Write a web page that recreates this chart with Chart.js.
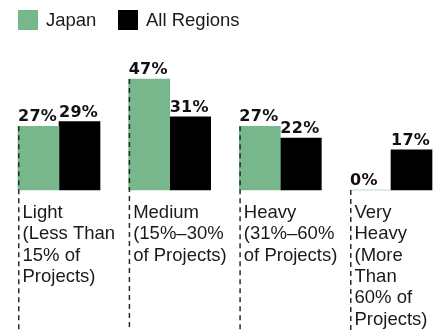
<!DOCTYPE html>
<html>
<head>
<meta charset="utf-8">
<script src="https://cdn.jsdelivr.net/npm/chart.js@4/dist/chart.umd.min.js"></script>
<style>
  html, body { margin: 0; padding: 0; background: #fff; }
  #wrap { position: relative; width: 437px; height: 330px; overflow: hidden; }
  #chart { position: absolute; left: 0; top: 0; }
  .legend-item {
    position: absolute; top: 10px; display: flex; align-items: flex-start;
    font-family: "Liberation Sans", Arial, sans-serif; font-size: 18.5px;
    line-height: 20px; color: #1a1a1a;
  }
  .legend-box { width: 20px; height: 20px; margin-right: 8px; }
</style>
</head>
<body>
<div id="wrap">
  <canvas id="chart" width="437" height="330"></canvas>
  <div id="legend"></div>
</div>
<script>
// category labels, one entry per line of text
const categories = [
  ["Light", "(Less Than", "15% of", "Projects)"],
  ["Medium", "(15%–30%", "of Projects)"],
  ["Heavy", "(31%–60%", "of Projects)"],
  ["Very", "Heavy", "(More", "Than", "60% of", "Projects)"]
];
const seriesNames = ["Japan", "All Regions"];
const japanValues = [27, 47, 27, 0];
const allRegionValues = [29, 31, 22, 17];
const seriesColors = ["#78b68b", "#000000"];

// legend built as html
const legend = document.getElementById("legend");
const legendLeft = [18, 118];
seriesNames.forEach((name, i) => {
  const item = document.createElement("div");
  item.className = "legend-item";
  item.style.left = legendLeft[i] + "px";
  item.innerHTML = `<div class="legend-box" style="background:${seriesColors[i]}"></div><span>${name}</span>`;
  legend.appendChild(item);
});

// dashed guides, value labels and wrapped category labels
const labelPlugin = {
  id: "barLabels",
  afterDatasetsDraw(chart) {
    const ctx = chart.ctx;
    const metaJapan = chart.getDatasetMeta(0);

    ctx.save();
    ctx.strokeStyle = "#2a2a2a";
    ctx.lineWidth = 1.5;
    ctx.setLineDash([5, 4]);
    metaJapan.data.forEach((bar) => {
      const left = bar.x - bar.width / 2 + 0.75;
      ctx.beginPath();
      ctx.moveTo(left, bar.y);
      ctx.lineTo(left, chart.height);
      ctx.stroke();
    });
    ctx.restore();

    ctx.save();
    ctx.fillStyle = "#111";
    ctx.font = "bold 16px 'DejaVu Sans', sans-serif";
    ctx.letterSpacing = "0.3px";
    ctx.textAlign = "left";
    ctx.textBaseline = "alphabetic";
    chart.data.datasets.forEach((ds, di) => {
      chart.getDatasetMeta(di).data.forEach((bar, i) => {
        const left = bar.x - bar.width / 2;
        ctx.fillText(ds.data[i] + "%", left, bar.y - 5);
      });
    });
    ctx.restore();

    ctx.save();
    ctx.fillStyle = "#1a1a1a";
    ctx.font = "18.5px 'Liberation Sans', Arial, sans-serif";
    ctx.textAlign = "left";
    ctx.textBaseline = "alphabetic";
    const base = chart.scales.y.getPixelForValue(0);
    metaJapan.data.forEach((bar, i) => {
      const left = bar.x - bar.width / 2 + 4.5;
      categories[i].forEach((line, li) => {
        ctx.fillText(line, left, base + 28 + li * 21.3);
      });
    });
    ctx.restore();
  }
};

const ctx = document.getElementById("chart").getContext("2d");
new Chart(ctx, {
  type: "bar",
  data: {
    labels: categories.map(c => c.join(" ")),
    datasets: [
      {
        label: seriesNames[0],
        data: japanValues,
        backgroundColor: seriesColors[0],
        borderWidth: 0,
        barThickness: 41,
        clip: false
      },
      {
        label: seriesNames[1],
        data: allRegionValues,
        backgroundColor: seriesColors[1],
        borderWidth: 0,
        barThickness: 41,
        clip: false
      }
    ]
  },
  options: {
    responsive: false,
    animation: false,
    layout: { padding: { left: 59, right: 46, top: 72, bottom: 140 } },
    plugins: {
      legend: { display: false },
      tooltip: { enabled: false }
    },
    scales: {
      x: { display: false, offset: false, grid: { display: false } },
      y: { display: false, min: 0, max: 50 }
    }
  },
  plugins: [labelPlugin]
});
</script>
</body>
</html>
